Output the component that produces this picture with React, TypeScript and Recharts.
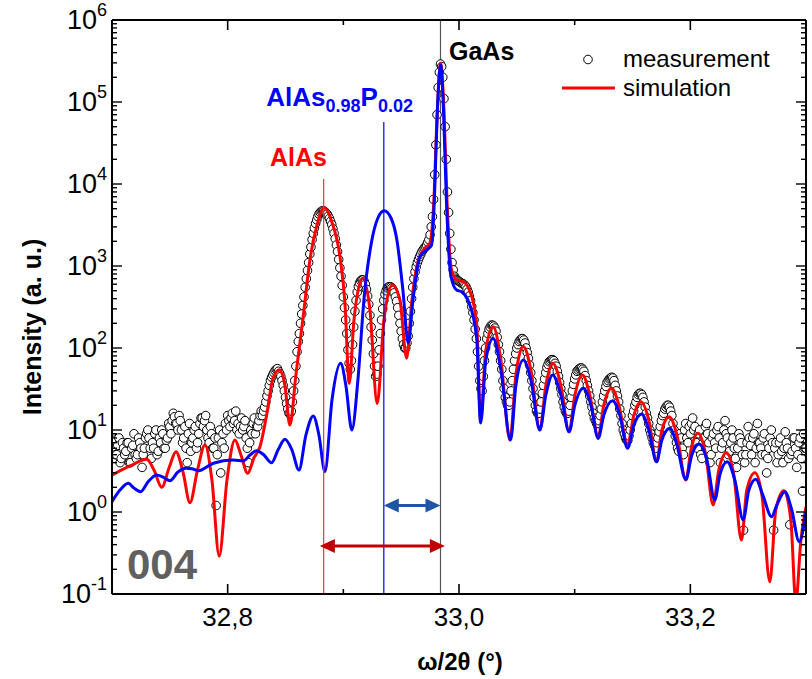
import React from 'react';
import { ComposedChart, Line, Scatter, XAxis, YAxis, ReferenceLine } from 'recharts';

const MEAS_START = 32.7;
const MEAS_STEP = 0.001;
const measIntensity = [
  6, 8, 7.5, 5, 5, 6.5, 8, 4, 4.5, 7,
  6, 5, 5.5, 7, 7, 4, 4, 6, 6.5, 9,
  5, 4.5, 5, 8, 7, 6, 3.5, 5, 6, 8,
  9, 10, 8, 6, 4.5, 7, 6, 9, 10, 5,
  5.5, 8, 7, 10, 9, 6, 6, 7.5, 8, 12,
  11, 9, 13, 16, 14.5, 12, 12, 10, 15, 13,
  10, 7, 8, 11, 6, 4, 9, 12, 5.5, 7,
  8, 10, 11, 6, 7, 9, 12, 14, 14, 11,
  13, 15, 10, 8, 7, 11, 9, 6, 6, 8,
  1.2, 5, 8, 10, 3, 7, 9, 6, 12, 10,
  15, 13, 11, 14, 16, 12, 13, 17, 10, 12,
  9, 11, 14, 10, 11, 13, 8, 6, 4, 7,
  10, 9, 12, 14, 9, 11, 11, 13, 15, 17,
  15, 17, 19, 22, 26, 30, 35, 40, 44, 47,
  50, 53, 55, 56, 52, 49, 45, 40, 35, 30,
  25, 21, 18, 16, 16, 17, 22, 30, 40, 60,
  90, 120, 150, 200, 260, 330, 420, 550, 700, 880,
  1100, 1400, 1700, 2100, 2500, 2900, 3300, 3650, 4000, 4300,
  4500, 4650, 4700, 4700, 4600, 4450, 4300, 4050, 3800, 3500,
  3200, 2850, 2500, 2150, 1800, 1500, 1200, 950, 750, 580,
  420, 310, 220, 150, 95, 65, 55, 70, 110, 180,
  280, 380, 480, 560, 620, 660, 680, 675, 650, 600,
  520, 430, 340, 250, 180, 125, 85, 60, 45, 48,
  60, 95, 150, 220, 300, 380, 450, 500, 540, 555,
  560, 555, 540, 510, 470, 420, 370, 310, 250, 200,
  160, 130, 110, 100, 100, 115, 140, 200, 280, 400,
  550, 700, 850, 980, 1100, 1200, 1300, 1400, 1500, 1580,
  1650, 1720, 1800, 1950, 2100, 2400, 3000, 4000, 6500, 13000,
  30000, 70000, 150000, 230000, 290000, 270000, 200000, 110000, 50000, 20000,
  8000, 4500, 2500, 1600, 1100, 900, 750, 710, 680, 665,
  650, 635, 620, 610, 600, 580, 560, 520, 480, 430,
  380, 320, 270, 220, 170, 130, 90, 60, 40, 32,
  30, 45, 70, 100, 130, 150, 170, 180, 190, 190,
  185, 175, 160, 135, 110, 90, 70, 55, 40, 32,
  25, 22, 20, 20, 22, 30, 40, 55, 70, 85,
  100, 110, 120, 125, 130, 130, 125, 115, 100, 88,
  75, 62, 50, 40, 32, 25, 20, 17, 16, 16,
  18, 22, 28, 35, 42, 50, 58, 63, 68, 70,
  72, 72, 70, 65, 60, 52, 45, 38, 32, 27,
  22, 19, 17, 16, 16, 17, 20, 25, 30, 36,
  42, 47, 52, 54, 56, 57, 57, 55, 52, 46,
  40, 35, 30, 26, 22, 19, 16, 14, 13, 12,
  12, 13, 15, 18, 22, 26, 30, 34, 38, 40,
  42, 43, 44, 43, 40, 35, 30, 26, 22, 18,
  15, 12, 10, 9, 8, 7.5, 7.5, 8.5, 10, 12,
  15, 17, 20, 22, 25, 27, 28, 28, 27, 25,
  22, 19, 16, 14, 12, 10, 9, 8, 7, 6.5,
  6, 7, 8, 9.5, 11, 13, 15, 16, 18, 19,
  20, 20, 19, 17, 15, 12, 10, 8.5, 7, 6,
  5.5, 9, 8, 6, 5, 10, 12, 8, 7, 11,
  9, 12, 14, 10, 11, 7, 6, 9, 10, 5,
  4.5, 7, 8, 11, 12, 9, 7, 4, 5, 8,
  9, 7, 6, 10, 11, 8, 4, 6, 7, 10,
  13, 9, 8, 5, 5.5, 7, 10, 8, 6, 4.5,
  3.5, 6, 9, 8, 7, 5, 0.6, 4, 5, 7,
  11, 8, 6.5, 5, 8, 9, 4, 6, 12, 7,
  7, 6, 5, 8, 9, 5, 3, 4.5, 6, 8,
  10, 7, 0.6, 6, 7, 4, 5, 7, 8, 5.5,
  4, 6, 9.5, 7, 6, 4.5, 0.7, 5, 5.5, 8,
  8, 6, 3.5, 5, 7, 8, 4.5, 1.8, 9, 6,
  6,
];

// ---- simulation (red, AlAs) ----
const simAX = [32.700, 32.7156, 32.730, 32.7363, 32.743, 32.7493, 32.7553, 32.7614, 32.7674, 32.7739, 32.7804, 32.7864, 32.7927, 32.7994, 32.8063, 32.8115, 32.8173, 32.8227, 32.8279, 32.8340, 32.8392, 32.8446, 32.8495, 32.8538, 32.8590, 32.8653, 32.8711, 32.8769, 32.8835, 32.8901, 32.8971, 32.9014, 32.9051, 32.9092, 32.9167, 32.9230, 32.9293, 32.9351, 32.9423, 32.9489, 32.9547, 32.9593, 32.9634, 32.9691, 32.9748, 32.9783, 32.9809, 32.9841, 32.9870, 32.9896, 32.9936, 32.9982, 33.0036, 33.0077, 33.0152, 33.0187, 33.0232, 33.0296, 33.0362, 33.0440, 33.0492, 33.0555, 33.0622, 33.0699, 33.0751, 33.0809, 33.0881, 33.0952, 33.1002, 33.1068, 33.1131, 33.1203, 33.1252, 33.1319, 33.1382, 33.1457, 33.1512, 33.1572, 33.1641, 33.1708, 33.1754, 33.1817, 33.1884, 33.1961, 33.2005, 33.2067, 33.2134, 33.2197, 33.2246, 33.2313, 33.2376, 33.2442, 33.2488, 33.2558, 33.2619, 33.2687, 33.2739, 33.2808, 33.2869, 33.2912, 33.2956, 33.3000];
const simAY = [2.82, 3.64, 4.39, 3.25, 2.0, 3.44, 5.43, 3.07, 1.30, 3.25, 6.56, 2.45, 0.29, 2.45, 7.55, 4.95, 2.96, 4.56, 6.25, 16.1, 43, 54, 35, 11.5, 47, 241, 1183, 3013, 5140, 3440, 1298, 354, 37, 219, 708, 290, 21, 219, 587, 385, 75, 385, 980, 1567, 1905, 6380, 60300, 297000, 79800, 6380, 893, 675, 644, 560, 202, 13.2, 94.6, 182, 71.4, 7.55, 47, 104, 54, 10, 35, 65, 35, 9.5, 26.7, 47, 26.7, 8.28, 20.2, 32.3, 20.2, 6.56, 15.2, 22.1, 13.2, 4.1, 10, 14.5, 8.7, 2.45, 5.7, 9.1, 4.95, 1.22, 3.25, 5.29, 2.82, 0.456, 1.85, 3.02, 1.61, 0.141, 1.06, 1.82, 0.80, 0.08, 0.456, 1.16];

// ---- simulation (blue, AlAs0.98P0.02) ----
const simBX = [32.700, 32.7069, 32.7141, 32.719, 32.7248, 32.7311, 32.7386, 32.7441, 32.7501, 32.757, 32.764, 32.7692, 32.7746, 32.7876, 32.8048, 32.8135, 32.8193, 32.8251, 32.8314, 32.838, 32.8435, 32.8495, 32.8556, 32.8616, 32.8677, 32.874, 32.8789, 32.8841, 32.8902, 32.8977, 32.9022, 32.9074, 32.9126, 32.9178, 32.9247, 32.9299, 32.9353, 32.9412, 32.9463, 32.9515, 32.9561, 32.9602, 32.9662, 32.972, 32.9763, 32.9787, 32.9813, 32.9841, 32.9866, 32.9891, 32.993, 32.9979, 33.0022, 33.0077, 33.0152, 33.0187, 33.0232, 33.0296, 33.0362, 33.0446, 33.0492, 33.0555, 33.0622, 33.0699, 33.0751, 33.0809, 33.0881, 33.0952, 33.1002, 33.1074, 33.114, 33.1203, 33.1252, 33.1328, 33.139, 33.1457, 33.1512, 33.1578, 33.1641, 33.1708, 33.1754, 33.1823, 33.1884, 33.1961, 33.2013, 33.2076, 33.2143, 33.2212, 33.2255, 33.2318, 33.2385, 33.2457, 33.2506, 33.2566, 33.2627, 33.2702, 33.2748, 33.2817, 33.2877, 33.2941, 33.300];
const simBY = [1.34, 1.85, 2.24, 1.96, 1.77, 2.32, 2.82, 2.67, 2.41, 3.07, 3.41, 3.36, 3.19, 3.93, 4.31, 4.2, 4.95, 5.6, 4.95, 3.99, 5.7, 7.7, 5.7, 3.25, 8.7, 14.8, 8.7, 3.1, 23.2, 65, 35, 10, 40.7, 385, 2075, 3850, 4720, 3850, 2075, 509, 115, 385, 1298, 1567, 1803, 6380, 79800, 283000, 79800, 6380, 755, 509, 486, 385, 137, 12.2, 71.4, 131, 54, 7.55, 35, 71.4, 40.7, 10, 26.7, 47, 26.7, 9.5, 20.2, 32.3, 20.2, 7.9, 15.2, 22.8, 15.2, 6.0, 11.5, 15.7, 10, 4.1, 7.55, 10.5, 6.56, 2.5, 4.95, 6.75, 4.31, 1.4, 2.82, 4.1, 2.45, 0.8, 1.85, 2.5, 1.61, 0.877, 1.22, 1.77, 1.06, 0.434, 1.01];

// ---- axes ----
const X_DOMAIN = [32.7, 33.3];
const Y_DOMAIN = [0.1, 1e6];
const xTickValues = [32.8, 32.9, 33.0, 33.1, 33.2];
const xMajorValues = [32.8, 33.0, 33.2];
const xMajorLabels = ['32,8', '33,0', '33,2'];
const yDecades = [0.1, 1, 10, 100, 1000, 10000, 100000, 1000000];
const yExponents = ['-1', '0', '1', '2', '3', '4', '5', '6'];

// ---- peak markers ----
const POS_ALAS = 32.883;
const POS_ALASP = 32.935;
const POS_GAAS = 32.984;
const TOP_ALAS = 11500;
const TOP_ALASP = 57000;
const ARROW_BLUE_Y = 1.2;
const ARROW_RED_Y = 0.385;
const ARROW_RED_FROM = 32.8797;
const ARROW_RED_TO = 32.9878;

const FONT = '"Liberation Sans", Arial, sans-serif';

const measData = measIntensity.map((v, i) => ({ x: MEAS_START + i * MEAS_STEP, y: v }));
const simAData = simAX.map((x, i) => ({ x, y: simAY[i] }));
const simBData = simBX.map((x, i) => ({ x, y: simBY[i] }));

const yTicksAll: number[] = [];
yDecades.forEach((d, k) => {
  yTicksAll.push(d);
  if (k < yDecades.length - 1) {
    for (let m = 2; m <= 9; m++) yTicksAll.push(d * m);
  }
});

const isMajorY = (v: number) => yDecades.findIndex((d) => Math.abs(v / d - 1) < 1e-6);
const isMajorX = (v: number) => xMajorValues.findIndex((d) => Math.abs(v - d) < 1e-6);

const BottomTick = (props: any) => {
  const { x, y, payload } = props;
  const idx = isMajorX(payload.value);
  return (
    <g>
      <line x1={x} x2={x} y1={y} y2={y - (idx >= 0 ? 10 : 5)} stroke="#000" strokeWidth={1.6} />
      {idx >= 0 && (
        <text x={x} y={y + 32} textAnchor="middle" fontSize={26} fontFamily={FONT} fill="#000">
          {xMajorLabels[idx]}
        </text>
      )}
    </g>
  );
};

const TopTick = (props: any) => {
  const { x, y, payload } = props;
  const idx = isMajorX(payload.value);
  return <line x1={x} x2={x} y1={y} y2={y + (idx >= 0 ? 10 : 5)} stroke="#000" strokeWidth={1.6} />;
};

const LeftTick = (props: any) => {
  const { x, y, payload } = props;
  const idx = isMajorY(payload.value);
  return (
    <g>
      <line x1={x} x2={x + (idx >= 0 ? 10 : 5)} y1={y} y2={y} stroke="#000" strokeWidth={1.4} />
      {idx >= 0 && (
        <text x={x - 5} y={y + 9} textAnchor="end" fontSize={27} fontFamily={FONT} fill="#000">
          10
          <tspan fontSize={18} dy={-13}>{yExponents[idx]}</tspan>
        </text>
      )}
    </g>
  );
};

const RightTick = (props: any) => {
  const { x, y, payload } = props;
  const idx = isMajorY(payload.value);
  return <line x1={x} x2={x - (idx >= 0 ? 10 : 5)} y1={y} y2={y} stroke="#000" strokeWidth={1.4} />;
};

const MeasCircle = (props: any) => {
  const { cx, cy } = props;
  if (cx == null || cy == null) return <g />;
  return <circle cx={cx} cy={cy} r={4.3} fill="#fff" stroke="#000" strokeWidth={1} />;
};

const makeArrow = (color: string) => (props: any) => {
  const { x1, y1, x2 } = props;
  const left = Math.min(x1, x2);
  const right = Math.max(x1, x2);
  const y = y1;
  const head = 15;
  const half = 7;
  return (
    <g>
      <line x1={left + head - 2} x2={right - head + 2} y1={y} y2={y} stroke={color} strokeWidth={3} />
      <polygon points={`${left},${y} ${left + head},${y - half} ${left + head},${y + half}`} fill={color} />
      <polygon points={`${right},${y} ${right - head},${y - half} ${right - head},${y + half}`} fill={color} />
    </g>
  );
};

export default function App() {
  return (
    <div style={{ position: 'absolute', left: 0, top: 0, width: 812, height: 679, background: '#fff' }}>
      <ComposedChart width={812} height={679} margin={{ top: 0, right: 0, bottom: 0, left: 0 }}>
        <XAxis
          xAxisId="b"
          dataKey="x"
          type="number"
          orientation="bottom"
          domain={X_DOMAIN}
          allowDataOverflow
          ticks={xTickValues}
          interval={0}
          height={85}
          tickSize={0}
          tickMargin={0}
          tickLine={false}
          axisLine={{ stroke: '#000', strokeWidth: 2 }}
          tick={BottomTick}
        />
        <XAxis
          xAxisId="t"
          dataKey="x"
          type="number"
          orientation="top"
          domain={X_DOMAIN}
          allowDataOverflow
          ticks={xTickValues}
          interval={0}
          height={20}
          tickSize={0}
          tickMargin={0}
          tickLine={false}
          axisLine={{ stroke: '#000', strokeWidth: 2 }}
          tick={TopTick}
        />
        <YAxis
          yAxisId="l"
          type="number"
          scale="log"
          orientation="left"
          domain={Y_DOMAIN}
          allowDataOverflow
          ticks={yTicksAll}
          interval={0}
          width={112}
          tickSize={0}
          tickMargin={0}
          tickLine={false}
          axisLine={{ stroke: '#000', strokeWidth: 2 }}
          tick={LeftTick}
        />
        <YAxis
          yAxisId="r"
          type="number"
          scale="log"
          orientation="right"
          domain={Y_DOMAIN}
          allowDataOverflow
          ticks={yTicksAll}
          interval={0}
          width={6}
          tickSize={0}
          tickMargin={0}
          tickLine={false}
          axisLine={{ stroke: '#000', strokeWidth: 2 }}
          tick={RightTick}
        />

        <ReferenceLine zIndex={300} xAxisId="b" yAxisId="l" segment={[{ x: POS_GAAS, y: 1e6 }, { x: POS_GAAS, y: 0.1 }]} stroke="#555" strokeWidth={1.2} ifOverflow="visible" />

        <Scatter zIndex={350} xAxisId="b" yAxisId="l" data={measData} dataKey="y" shape={MeasCircle} isAnimationActive={false} />

        <Line zIndex={420} xAxisId="b" yAxisId="l" data={simAData} dataKey="y" type="monotone" stroke="#ff0000" strokeWidth={3} dot={false} activeDot={false} isAnimationActive={false} />
        <Line zIndex={430} xAxisId="b" yAxisId="l" data={simBData} dataKey="y" type="monotone" stroke="#0000ff" strokeWidth={3} dot={false} activeDot={false} isAnimationActive={false} />

        <ReferenceLine zIndex={440} xAxisId="b" yAxisId="l" segment={[{ x: POS_ALAS, y: TOP_ALAS }, { x: POS_ALAS, y: 0.1 }]} stroke="#ff3030" strokeWidth={1.2} ifOverflow="visible" />
        <ReferenceLine zIndex={440} xAxisId="b" yAxisId="l" segment={[{ x: POS_ALASP, y: TOP_ALASP }, { x: POS_ALASP, y: 0.1 }]} stroke="#0000ff" strokeWidth={1.2} ifOverflow="visible" />

        <ReferenceLine zIndex={450} xAxisId="b" yAxisId="l" segment={[{ x: POS_ALASP, y: ARROW_BLUE_Y }, { x: POS_GAAS, y: ARROW_BLUE_Y }]} shape={makeArrow('#1f55a5')} ifOverflow="visible" />
        <ReferenceLine zIndex={450} xAxisId="b" yAxisId="l" segment={[{ x: ARROW_RED_FROM, y: ARROW_RED_Y }, { x: ARROW_RED_TO, y: ARROW_RED_Y }]} shape={makeArrow('#c00000')} ifOverflow="visible" />
      </ComposedChart>

      <svg width={812} height={679} style={{ position: 'absolute', left: 0, top: 0, pointerEvents: 'none' }} fontFamily={FONT}>
        <text x={270} y={166} fontSize={25} fontWeight="bold" fill="#ff0000">AlAs</text>
        <text x={413} y={106} textAnchor="end" fontSize={26} fontWeight="bold" fill="#0000ff">
          AlAs<tspan fontSize={18} dy={6}>0.98</tspan>
          <tspan fontSize={26} dy={-6}>P</tspan>
          <tspan fontSize={18} dy={6}>0.02</tspan>
        </text>
        <text x={449} y={60} fontSize={25} fontWeight="bold" fill="#000">GaAs</text>

        <circle cx={588} cy={59.5} r={4.3} fill="#fff" stroke="#000" strokeWidth={1} />
        <text x={623} y={67} fontSize={24} fill="#000">measurement</text>
        <line x1={562} x2={615} y1={88} y2={88} stroke="#ff0000" strokeWidth={3} />
        <text x={623} y={96} fontSize={24} fill="#000">simulation</text>

        <text x={127} y={579} fontSize={42} fontWeight="bold" fill="#606060">004</text>

        <text x={460} y={670} textAnchor="middle" fontSize={24} fontWeight="bold" fill="#000">ω/2θ (°)</text>
        <text x={32} y={327} textAnchor="middle" dominantBaseline="central" fontSize={25} fontWeight="bold" fill="#000" transform="rotate(-90, 32, 327)">
          Intensity (a. u.)
        </text>
      </svg>
    </div>
  );
}
